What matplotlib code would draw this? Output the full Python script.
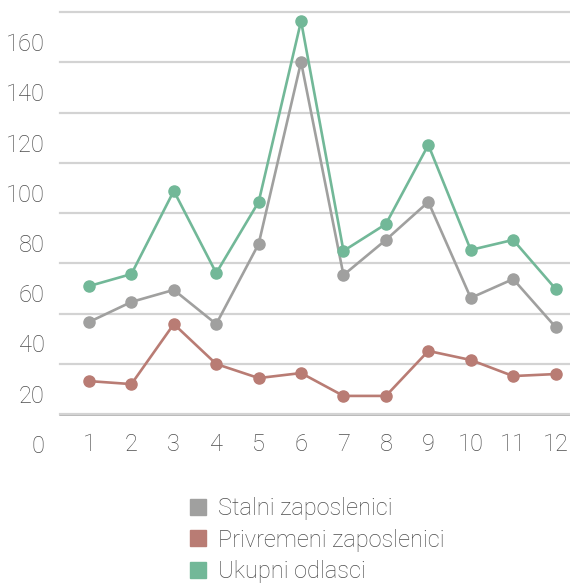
import matplotlib
matplotlib.use("Agg")
import matplotlib.pyplot as plt
from matplotlib.lines import Line2D
import matplotlib.transforms as mtransforms

months = [1, 2, 3, 4, 5, 6, 7, 8, 9, 10, 11, 12]
stalni = [36.6, 44.6, 49.4, 35.8, 67.7, 140.1, 55.3, 69.3, 84.4, 46.2, 53.7, 34.6]
privremeni = [13.1, 11.9, 35.8, 19.9, 14.3, 16.3, 7.2, 7.2, 25.1, 21.5, 15.1, 15.9]
ukupni = [50.9, 55.7, 88.8, 56.1, 84.4, 156.4, 64.9, 75.6, 107.1, 65.3, 69.3, 49.8]
y_ticks = [0, 20, 40, 60, 80, 100, 120, 140, 160]
series_names = ["Stalni zaposlenici", "Privremeni zaposlenici", "Ukupni odlasci"]
colors = ["#a0a09f", "#b97c74", "#72b898"]

plt.rcParams['font.family'] = ['Roboto', 'DejaVu Sans']
W, H = 570, 584
fig = plt.figure(figsize=(W / 100, H / 100), dpi=100)
ax = fig.add_axes([60 / W, 1 - 414 / H, (570 - 60) / W, (414 - 12) / H])

for vals, c in zip([stalni, privremeni, ukupni], colors):
    ax.plot(months, vals, color=c, lw=1.9, marker='o', ms=8, clip_on=False, zorder=3)

ax.set_xlim(0.317, 12.34)
ax.set_ylim(0, 160)
ax.set_yticks(y_ticks)
ax.set_xticks(months)
ax.grid(axis='y', color='#d3d3d3', lw=1.6, zorder=0)
for gl in ax.get_ygridlines():
    gl.set_clip_on(False)
for s in ['top', 'right', 'left']:
    ax.spines[s].set_visible(False)
ax.spines['bottom'].set_color('#a3a3a3')
ax.spines['bottom'].set_linewidth(1.8)
ax.spines['bottom'].set_zorder(1)
ax.tick_params(axis='both', length=0, labelsize=17, labelcolor='#4d4d4d')
ax.tick_params(axis='y', pad=11)
ax.tick_params(axis='x', pad=14)

offset = mtransforms.ScaledTranslation(0, -30 / 100, fig.dpi_scale_trans)
for lab in ax.get_yticklabels():
    lab.set_transform(lab.get_transform() + offset)
    lab.set_fontweight('light')
for lab in ax.get_xticklabels():
    lab.set_fontweight('light')

handles = [Line2D([], [], ls='none', marker='s', ms=12, color=c) for c in colors]
fig.legend(handles, series_names, loc='upper left', bbox_to_anchor=(165 / W, 1 - 476 / H),
           frameon=False, labelcolor='#4d4d4d', handletextpad=0.35,
           labelspacing=0.36, handlelength=1.0, prop={'weight': 'light', 'size': 17})

fig.savefig("out.png", dpi=100)
